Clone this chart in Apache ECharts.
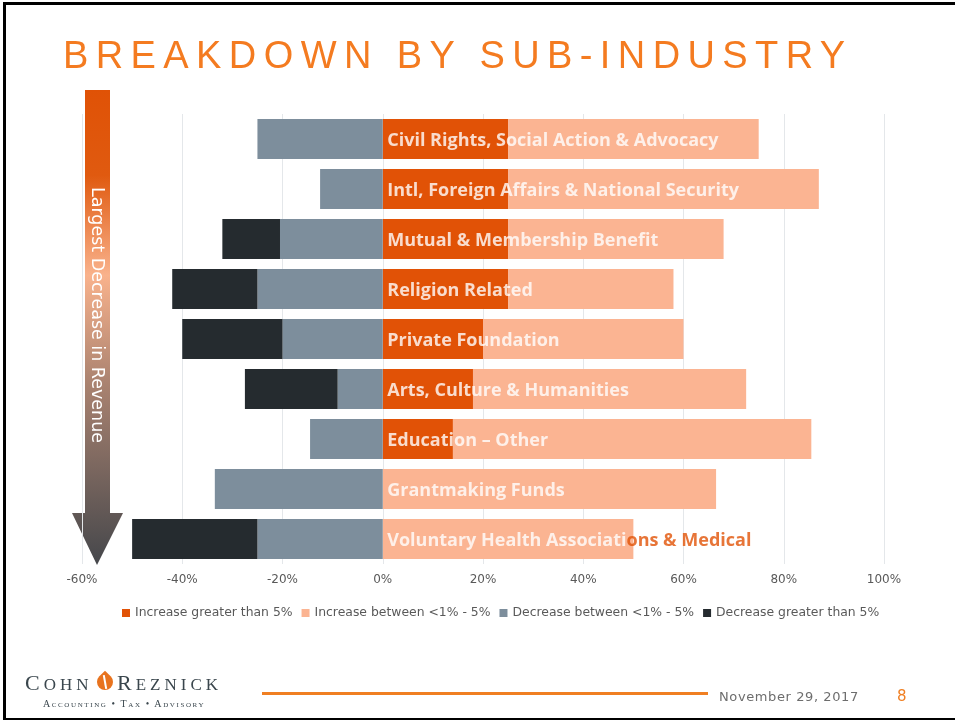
<!DOCTYPE html>
<html>
  <head>
    <meta charset="utf-8" />
    <title>Breakdown by Sub-Industry</title>
    <script src="https://cdn.jsdelivr.net/npm/echarts/dist/echarts.min.js"></script>
    <style>
      body { margin: 0; overflow: hidden; background: #fff; }
      #page { position: relative; width: 955px; height: 721px; }
      #main { position: absolute; left: 0; top: 0; width: 955px; height: 721px; }
      .abs { position: absolute; white-space: nowrap; }
      #title { left: 63px; top: 36px; font-family: 'Liberation Sans'; font-size: 38px; line-height: 38px;
               letter-spacing: 7.4px; color: #F47B20; }
      #frame { left: 3px; top: 2px; width: 980px; height: 718px; box-sizing: border-box;
               border-top: 3px solid #000; border-left: 3px solid #000; border-bottom: 2px solid #000; }
      .logo { font-family: 'Liberation Serif'; color: #3A464D; }
      #leaf { left: 97px; top: 674px; width: 16px; height: 16px; background: #E8731E;
              border-radius: 50% 0 50% 50%; transform: rotate(-45deg); }
      #leaf:after { content: ''; position: absolute; left: 7px; top: 1px; width: 2px; height: 14px; background: #fff; transform: rotate(35deg); }
      #rule { left: 262px; top: 692px; width: 446px; height: 3px; background: #F07F22; }
      #date { left: 719px; top: 690px; font-family: 'DejaVu Sans'; font-size: 13px; line-height: 13px;
              letter-spacing: 0.6px; color: #6d6d6d; }
      #pageno { left: 897px; top: 689px; font-family: 'DejaVu Sans'; font-size: 15px; line-height: 15px; color: #F07F22; }
    </style>
  </head>
  <body>
    <div id="page">
      <div id="main"></div>
      <div id="frame" class="abs"></div>
      <div id="title" class="abs">BREAKDOWN BY SUB-INDUSTRY</div>
      <div class="abs logo" style="left:25px;top:672px;line-height:22px;letter-spacing:4px;"><span style="font-size:22px">C</span><span style="font-size:17px">OHN</span></div>
      <div id="leaf" class="abs"></div>
      <div class="abs logo" style="left:117px;top:672px;line-height:22px;letter-spacing:4px;"><span style="font-size:22px">R</span><span style="font-size:17px">EZNICK</span></div>
      <div class="abs logo" style="left:43px;top:699px;font-size:10px;line-height:10px;letter-spacing:1.6px;font-variant:small-caps;">Accounting • Tax • Advisory</div>
      <div id="rule" class="abs"></div>
      <div id="date" class="abs">November 29, 2017</div>
      <div id="pageno" class="abs">8</div>
    </div>
    <script type="text/javascript">
      var categorias = [
        'Civil Rights, Social Action & Advocacy',
        'Intl, Foreign Affairs & National Security',
        'Mutual & Membership Benefit',
        'Religion Related',
        'Private Foundation',
        'Arts, Culture & Humanities',
        'Education \u2013 Other',
        'Grantmaking Funds',
        'Voluntary Health Associations & Medical'
      ];
      var nomesSeries = [
        'Increase greater than 5%',
        'Increase between <1% - 5%',
        'Decrease between <1% - 5%',
        'Decrease greater than 5%'
      ];
      var aumentoMaior = [25, 25, 25, 25, 20, 18, 14, 0, 0];
      var aumentoEntre = [50, 62, 43, 33, 40, 54.5, 71.5, 66.5, 50];
      var quedaEntre = [-25, -12.5, -20.5, -25, -20, -9, -14.5, -33.5, -25];
      var quedaMaior = [0, 0, -11.5, -17, -20, -18.5, 0, 0, -25];
      var cores = ['#E15206', '#FBB492', '#7D8E9C', '#252B2F'];

      var myChart = echarts.init(document.getElementById('main'));

      function serie(i, data) {
        return {
          name: nomesSeries[i],
          type: 'bar',
          stack: 'total',
          barWidth: 40,
          data: data,
          itemStyle: { color: cores[i] },
          emphasis: { disabled: true }
        };
      }

      // rótulos das categorias, ancorados no 0% do eixo
      var rotulos = {
        name: 'rotulos',
        type: 'scatter',
        z: 10,
        silent: true,
        symbol: 'rect',
        symbolSize: 1,
        itemStyle: { color: 'rgba(0,0,0,0)' },
        data: categorias.map(function (c) { return [0, c]; }),
        label: {
          show: true,
          position: 'right',
          distance: 4,
          offset: [0, 2],
          formatter: function (p) {
            var v = categorias[p.dataIndex];
            if (v.indexOf('Voluntary') === 0) {
              return '{w|Voluntary Health Associati}{o|ons & Medical}';
            }
            return '{w|' + v + '}';
          },
          rich: {
            w: { color: '#fff', fontFamily: 'Open Sans', fontWeight: 'bold', fontSize: 18 },
            o: { color: '#E15206', fontFamily: 'Open Sans', fontWeight: 'bold', fontSize: 18 }
          }
        }
      };

      var option = {
        animation: false,
        color: cores,
        grid: { left: 82, right: 71, top: 114, height: 450 },
        legend: {
          data: nomesSeries,
          left: 117,
          top: 602,
          icon: 'rect',
          itemWidth: 8,
          itemHeight: 8,
          itemGap: 9,
          textStyle: { fontFamily: 'DejaVu Sans', fontSize: 12.4, color: '#595959' }
        },
        xAxis: {
          type: 'value',
          min: -60,
          max: 100,
          interval: 20,
          axisLine: { show: false },
          axisTick: { show: false },
          splitLine: { lineStyle: { color: '#E4E7EA', width: 1 } },
          axisLabel: {
            formatter: '{value}%',
            margin: 10,
            fontFamily: 'DejaVu Sans',
            fontSize: 12,
            color: '#595959'
          }
        },
        yAxis: {
          type: 'category',
          inverse: true,
          data: categorias,
          axisLine: { show: false },
          axisTick: { show: false },
          splitLine: { show: false },
          axisLabel: { show: false }
        },
        graphic: [
          {
            type: 'polygon',
            shape: {
              points: [[85, 90], [110, 90], [110, 513], [123, 513], [97, 565], [72, 513], [85, 513]]
            },
            style: {
              fill: {
                type: 'linear', x: 0, y: 0, x2: 0, y2: 1,
                colorStops: [
                  { offset: 0, color: '#E05206' },
                  { offset: 0.18, color: '#E05A10' },
                  { offset: 0.39, color: '#F9B28C' },
                  { offset: 0.62, color: '#A98270' },
                  { offset: 1, color: '#45474B' }
                ]
              }
            }
          },
          {
            type: 'text',
            x: 97,
            y: 315,
            rotation: -Math.PI / 2,
            style: {
              text: 'Largest Decrease in Revenue',
              fill: '#fff',
              font: '17.5px "DejaVu Sans"',
              textAlign: 'center',
              textVerticalAlign: 'middle',
              align: 'center',
              verticalAlign: 'middle'
            }
          }
        ],
        series: [
          serie(0, aumentoMaior),
          serie(1, aumentoEntre),
          serie(2, quedaEntre),
          serie(3, quedaMaior),
          rotulos
        ]
      };

      myChart.setOption(option);
    </script>
  </body>
</html>
